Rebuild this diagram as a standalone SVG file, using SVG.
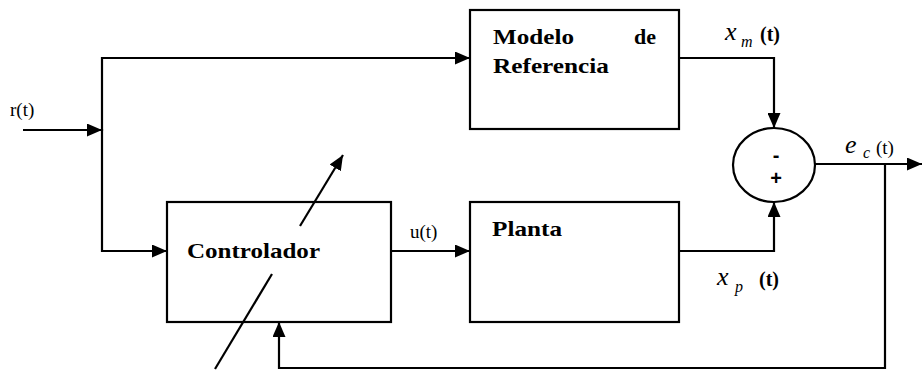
<svg xmlns="http://www.w3.org/2000/svg" width="922" height="370" viewBox="0 0 922 370">
<style>
.box{fill:#fff;stroke:#000;stroke-width:2.2}
.ln{fill:none;stroke:#000;stroke-width:2.2}
</style>
<defs>
<marker id="ah" markerUnits="userSpaceOnUse" markerWidth="15" markerHeight="13" refX="15" refY="6.5" orient="auto">
<path d="M0,0 L15,6.5 L0,13 z" fill="#000"/>
</marker>
</defs>
<rect width="922" height="370" fill="#fff"/>
<g id="connectors">
<path class="ln" d="M23,130 H102" marker-end="url(#ah)"/>
<path class="ln" d="M102,131 V58 H470" marker-end="url(#ah)"/>
<path class="ln" d="M102,129 V251 H167" marker-end="url(#ah)"/>
<path class="ln" d="M391,251 H470" marker-end="url(#ah)"/>
<path class="ln" d="M679,58 H774 V128" marker-end="url(#ah)"/>
<path class="ln" d="M679,251 H774 V202" marker-end="url(#ah)"/>
<path class="ln" d="M815,164 H922" marker-end="url(#ah)"/>
<path class="ln" d="M885,164 V368 H279 V322" marker-end="url(#ah)"/>
</g>
<g id="modelo" font-family="Liberation Serif, serif" font-weight="bold" font-size="22">
<rect class="box" x="470" y="10" width="209" height="119"/>
<text x="493" y="44" textLength="81" lengthAdjust="spacingAndGlyphs">Modelo</text>
<text x="656" y="44" text-anchor="end">de</text>
<text x="493" y="73" textLength="116" lengthAdjust="spacingAndGlyphs">Referencia</text>
</g>
<g id="controlador" font-family="Liberation Serif, serif" font-weight="bold" font-size="22">
<rect class="box" x="167" y="202" width="224" height="120"/>
<text x="187" y="258" textLength="133" lengthAdjust="spacingAndGlyphs">Controlador</text>
</g>
<g id="planta" font-family="Liberation Serif, serif" font-weight="bold" font-size="22">
<rect class="box" x="470" y="202" width="209" height="120"/>
<text x="492" y="236" textLength="70" lengthAdjust="spacingAndGlyphs">Planta</text>
</g>
<g id="sumador" font-family="Liberation Sans, sans-serif" font-size="20" font-weight="bold">
<ellipse class="box" cx="774" cy="165" rx="41" ry="37"/>
<text x="776" y="162" text-anchor="middle">-</text>
<text x="776" y="185" text-anchor="middle">+</text>
</g>
<g id="ajuste">
<path class="ln" d="M215,369 L272,274"/>
<path class="ln" d="M300,226 L343,155" marker-end="url(#ah)"/>
</g>
<g id="labels" font-family="Liberation Serif, serif" font-size="19">
<text x="10" y="116">r(t)</text>
<text x="410" y="238">u(t)</text>
<text x="725" y="40" font-style="italic" font-size="26">x</text>
<text x="741" y="47" font-style="italic" font-size="16">m</text>
<text x="760" y="41" font-weight="bold" font-size="20">(t)</text>
<text x="717" y="285" font-style="italic" font-size="26">x</text>
<text x="735" y="292" font-style="italic" font-size="16">p</text>
<text x="759" y="286" font-weight="bold" font-size="20">(t)</text>
<text x="845" y="153" font-style="italic" font-size="26">e</text>
<text x="863" y="158" font-style="italic" font-size="16">c</text>
<text x="876" y="154">(t)</text>
</g>
</svg>
